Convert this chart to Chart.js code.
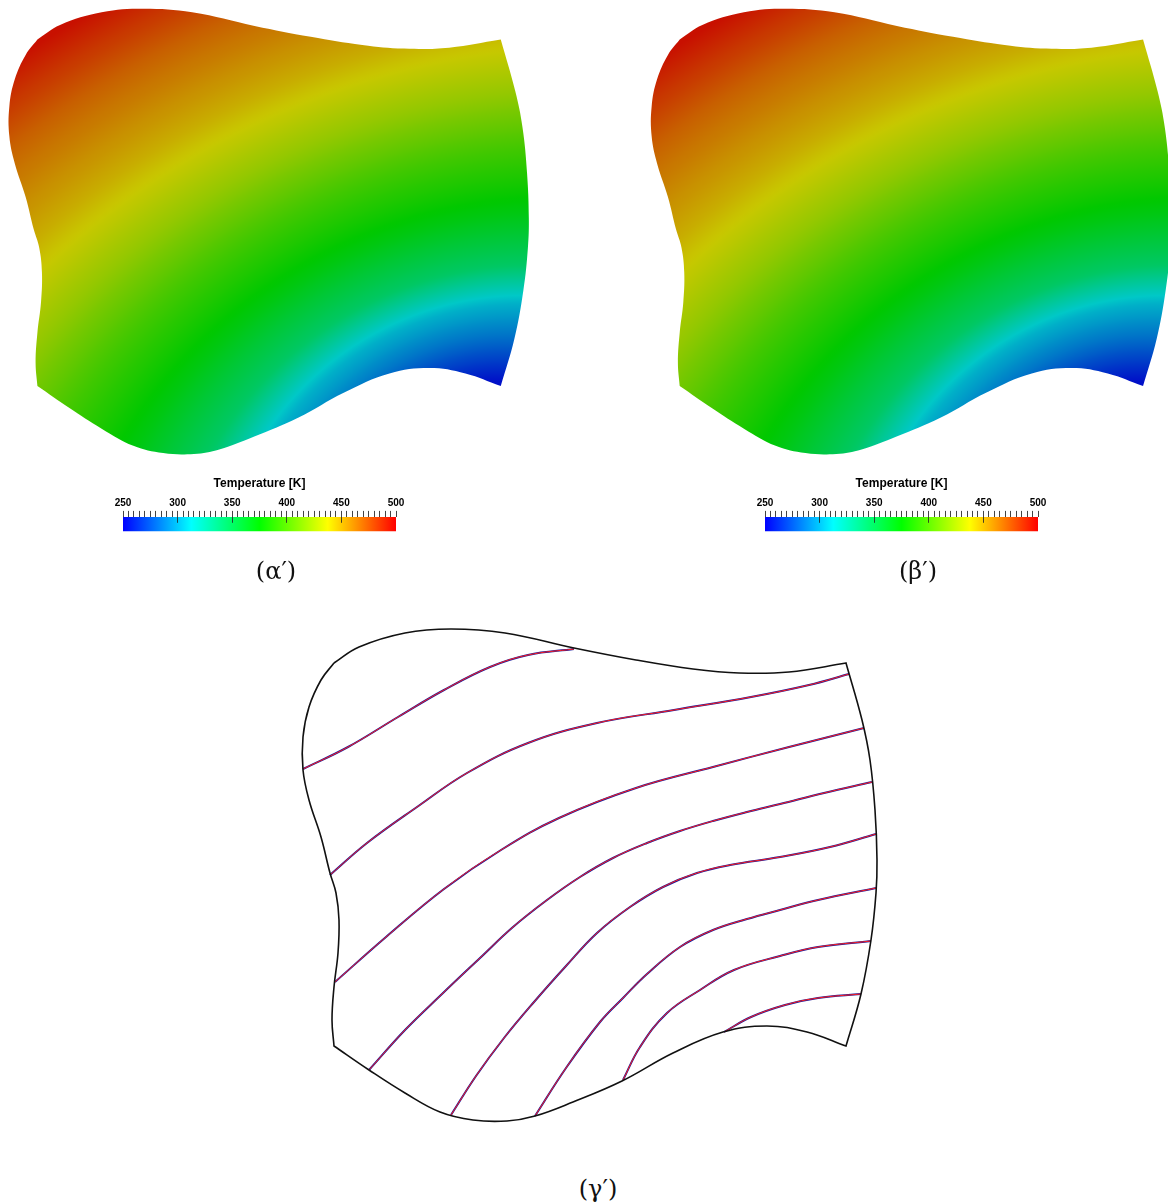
<!DOCTYPE html>
<html>
<head>
<meta charset="utf-8">
<script src="https://cdn.jsdelivr.net/npm/chart.js@4.4.1/dist/chart.umd.min.js"></script>
<style>
  body { margin: 0; background: #fff; width: 1168px; height: 1202px; position: relative; overflow: hidden; }
  canvas { position: absolute; }
  .cap { position: absolute; font-family: "DejaVu Serif", serif; font-size: 24px; color: #111;
         transform: translate(-50%, -50%); white-space: nowrap; }
</style>
</head>
<body>
<canvas id="fieldA" width="560" height="460" style="left:0px;top:0px"></canvas>
<canvas id="barA" width="320" height="100" style="left:100px;top:470px"></canvas>
<div class="cap" style="left:276px;top:571px">(α′)</div>

<canvas id="fieldB" width="526" height="460" style="left:642px;top:0px"></canvas>
<canvas id="barB" width="320" height="100" style="left:742px;top:470px"></canvas>
<div class="cap" style="left:918px;top:571px">(β′)</div>

<canvas id="contours" width="620" height="540" style="left:280px;top:600px"></canvas>
<div class="cap" style="left:598px;top:1189px">(γ′)</div>

<script>
/* domain boundary, one edge per array, corner to corner */
const topEdge = [[0,383],[25,399],[71,413],[117,417],[171,413],[240,398],[302,386],[359,377],[405,373],[455,374],[512,383]];
const rightEdge = [[512,383],[528,326],[536,286],[541,236],[543,186],[542,153],[537,106],[527,52],[512,0]];
const bottomEdge = [[512,0],[473,14],[433,20],[389,14],[339,-7],[288,-35],[239,-56],[201,-70],[173,-75],[139,-74],[106,-66],[71,-47],[35,-24],[0,0]];
const leftEdge = [[0,0],[-2,26],[0,59],[4,93],[5,126],[2,153],[-4,173],[-13,209],[-25,246],[-31,276],[-31,309],[-25,339],[-13,366],[0,383]];

/* isotherms (K) */
const isoLevels = [470, 446, 421, 396, 370, 344, 306, 284];
const iso1 = [[-31,277],[14,299],[64,329],[110,356],[156,379],[194,391],[240,397]];
const iso2 = [[-4,171],[33,203],[83,239],[133,273],[194,303],[263,323],[340,336],[417,349],[475,361],[515,372]];
const iso3 = [[1,64],[52,109],[110,157],[167,196],[225,228],[302,258],[379,279],[455,299],[530,318]];
const iso4 = [[35,-24],[71,16],[108,52],[146,88],[179,119],[213,146],[246,169],[279,188],[313,203],[346,215],[379,225],[413,234],[446,242],[490,253],[538,264]];
const iso5 = [[117,-69],[142,-30],[170,8],[200,44],[232,80],[263,113],[296,139],[329,159],[363,173],[396,181],[446,189],[496,199],[542,212]];
const iso6 = [[201,-70],[232,-22],[266,24],[289,48],[313,72],[346,99],[379,116],[413,127],[446,136],[484,146],[542,158]];
const iso7 = [[289,-34],[306,-1],[333,33],[366,56],[400,76],[446,90],[484,99],[537,105]];
const iso8 = [[390,14],[417,29],[451,41],[484,48],[527,52]];
const isoLines = [iso1, iso2, iso3, iso4, iso5, iso6, iso7, iso8];

/* colour bar */
const barRange = [250, 500];
const barStops = [250, 312.5, 375, 437.5, 500];
const barColors = [[0,0,255],[0,255,255],[0,255,0],[255,255,0],[255,0,0]];

/* shaded field: radial fit of the isotherms (domain units) */
const fieldCore = { x0: 506, y0: -145, r0: 150, x1: 690, y1: -724, r1: 1300 };
const fieldEnds = [255, 495];
const isoRadius = [1145, 955, 800, 676, 530, 410, 327, 245];

function pts(arr) { return arr.map(p => ({ x: p[0], y: p[1] })); }
const outline = [].concat(topEdge, rightEdge, bottomEdge, leftEdge);

function tempColor(T, shade) {
  let i = 0;
  while (i < barStops.length - 2 && T > barStops[i + 1]) i++;
  let f = (T - barStops[i]) / (barStops[i + 1] - barStops[i]);
  f = Math.max(0, Math.min(1, f));
  const a = barColors[i], b = barColors[i + 1];
  const c = a.map((v, k) => Math.round((v + (b[k] - v) * f) * shade));
  return 'rgb(' + c.join(',') + ')';
}

function tempAtRadius(r) {
  const knots = [[fieldCore.r0, fieldEnds[0]]];
  isoRadius.map((rr, i) => [rr, isoLevels[i]]).sort((a, b) => a[0] - b[0]).forEach(k => knots.push(k));
  knots.push([fieldCore.r1, fieldEnds[1]]);
  for (let i = 0; i < knots.length - 1; i++) {
    if (r <= knots[i + 1][0]) {
      const f = (r - knots[i][0]) / (knots[i + 1][0] - knots[i][0]);
      return knots[i][1] + f * (knots[i + 1][1] - knots[i][1]);
    }
  }
  return fieldEnds[1];
}

function fieldGradient(context) {
  const chart = context.chart;
  if (!chart.chartArea) return 'rgba(0,0,0,0)';
  const sx = chart.scales.x, sy = chart.scales.y;
  const k = sx.getPixelForValue(1) - sx.getPixelForValue(0);
  const g = chart.ctx.createRadialGradient(
    sx.getPixelForValue(fieldCore.x0), sy.getPixelForValue(fieldCore.y0), fieldCore.r0 * k,
    sx.getPixelForValue(fieldCore.x1), sy.getPixelForValue(fieldCore.y1), fieldCore.r1 * k);
  const n = 120;
  for (let i = 0; i <= n; i++) {
    const r = fieldCore.r0 + (fieldCore.r1 - fieldCore.r0) * i / n;
    g.addColorStop(i / n, tempColor(tempAtRadius(r), 0.784));
  }
  return g;
}

function hiddenScales(xmin, xmax, ymin, ymax) {
  return {
    x: { type: 'linear', min: xmin, max: xmax, display: false },
    y: { type: 'linear', min: ymin, max: ymax, display: false }
  };
}

const baseOpts = {
  responsive: false,
  animation: false,
  devicePixelRatio: 1,
  layout: { padding: 0, autoPadding: false },
  plugins: { legend: { display: false }, tooltip: { enabled: false } },
  elements: { point: { radius: 0 } }
};

function makeField(id, xmin, xmax, ymin, ymax) {
  new Chart(document.getElementById(id), {
    type: 'scatter',
    data: {
      datasets: [{
        data: pts(outline),
        showLine: true,
        tension: 0.4,
        borderWidth: 0,
        borderColor: 'rgba(0,0,0,0)',
        fill: 'shape',
        backgroundColor: fieldGradient
      }]
    },
    options: Object.assign({}, baseOpts, { scales: hiddenScales(xmin, xmax, ymin, ymax) })
  });
}

// major tick runs a few px into the bar
function majorLine(chart) {
  const a = chart.chartArea;
  const g = chart.ctx.createLinearGradient(0, a.top, 0, a.bottom);
  const f = 5.5 / (a.bottom - a.top);
  g.addColorStop(0, 'rgba(40,40,40,0.85)');
  g.addColorStop(f, 'rgba(40,40,40,0.85)');
  g.addColorStop(f + 0.01, 'rgba(40,40,40,0)');
  return g;
}

function makeBar(id) {
  new Chart(document.getElementById(id), {
    type: 'bar',
    data: {
      datasets: [{
        data: [{ x: barRange, y: 43 }],
        borderWidth: 0,
        barThickness: 14,
        backgroundColor: function(c) {
          const chart = c.chart;
          if (!chart.chartArea) return 'rgba(0,0,0,0)';
          const sx = chart.scales.x;
          const g = chart.ctx.createLinearGradient(sx.getPixelForValue(barRange[0]), 0, sx.getPixelForValue(barRange[1]), 0);
          barStops.forEach((t, i) => g.addColorStop((t - barRange[0]) / (barRange[1] - barRange[0]), tempColor(t, 1)));
          return g;
        }
      }]
    },
    options: Object.assign({}, baseOpts, {
      indexAxis: 'y',
      layout: { padding: { left: 23, right: 24, top: 6.5, bottom: 3 }, autoPadding: false },
      scales: {
        y: { type: 'linear', min: 0, max: 50, offset: false, display: false },
        x: {
          type: 'linear',
          position: 'top',
          min: barRange[0],
          max: barRange[1],
          border: { display: false },
          grid: {
            z: 1,
            drawOnChartArea: true,
            tickLength: 6,
            tickColor: '#444',
            color: c => (c.tick && c.tick.value % 50 === 0 && c.tick.value > barRange[0] && c.tick.value < barRange[1])
              ? majorLine(c.chart) : 'rgba(0,0,0,0)'
          },
          ticks: {
            stepSize: 5,
            autoSkip: false,
            maxRotation: 0,
            padding: 2,
            color: '#000',
            font: { family: 'Liberation Sans', size: 10, weight: 'bold' },
            callback: v => (v % 50 === 0 ? String(v) : '')
          },
          title: {
            display: true,
            text: 'Temperature [K]',
            color: '#000',
            padding: { top: 0, bottom: 4 },
            font: { family: 'Liberation Sans', size: 12, weight: 'bold' }
          }
        }
      }
    })
  });
}

/* top panels: same field, scaled 0.905 px per unit */
makeField('fieldA', -41.33, 577.46, -81.64, 426.65);
makeBar('barA');
makeField('fieldB', -41.66, 539.56, -81.64, 426.65);
makeBar('barB');

/* bottom panel: isotherms of both solutions over the boundary */
const lineSets = [{
  data: pts(outline), showLine: true, tension: 0.4, fill: false,
  borderColor: '#111', borderWidth: 1.6, order: 0
}];
isoLines.forEach(function(line, i) {
  lineSets.push({
    label: isoLevels[i] + ' K', data: pts(line), showLine: true, tension: 0.4, fill: false,
    borderColor: '#ff1e1e', borderWidth: 1, order: 1
  });
  lineSets.push({
    label: isoLevels[i] + ' K ref', data: pts(line), showLine: true, tension: 0.4, fill: false,
    borderColor: '#1a1a9a', borderWidth: 2, order: 2
  });
});

new Chart(document.getElementById('contours'), {
  type: 'scatter',
  data: { datasets: lineSets },
  options: Object.assign({}, baseOpts, { scales: hiddenScales(-54, 566, -94, 446) })
});
</script>
</body>
</html>
